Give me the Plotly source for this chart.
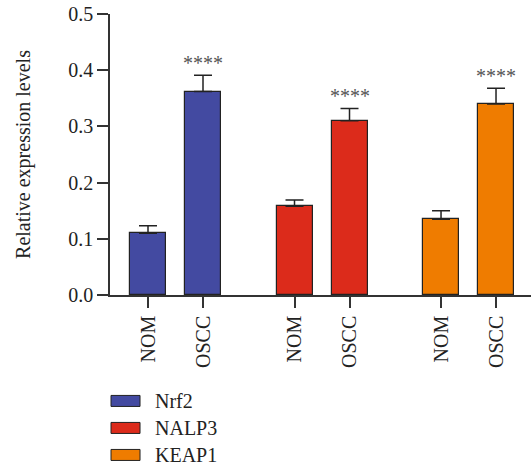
import plotly.graph_objects as go

genes = ["Nrf2", "NALP3", "KEAP1"]
groups = ["NOM", "OSCC"]
colors = ["#434aa1", "#dc2b1b", "#ef7c00"]
means = {
    "Nrf2": [0.110, 0.362],
    "NALP3": [0.158, 0.310],
    "KEAP1": [0.135, 0.340],
}
errors = {
    "Nrf2": [0.013, 0.029],
    "NALP3": [0.011, 0.022],
    "KEAP1": [0.015, 0.028],
}
signif = {
    "Nrf2": ["", "****"],
    "NALP3": ["", "****"],
    "KEAP1": ["", "****"],
}
y_ticks = [0.0, 0.1, 0.2, 0.3, 0.4, 0.5]

FONT = "'Liberation Serif', 'DejaVu Serif', serif"
group_step = 2.664

fig = go.Figure()
tickvals, ticktext = [], []
for gi, g in enumerate(genes):
    xs = [gi * group_step + i for i in range(len(groups))]
    tickvals += xs
    ticktext += groups
    fig.add_trace(go.Bar(
        x=xs, y=means[g], name=g, width=0.655,
        marker=dict(color=colors[gi], line=dict(color="#222222", width=1.2)),
        error_y=dict(type="data", array=errors[g], arrayminus=[0] * len(xs),
                     symmetric=False, color="#222222", thickness=1.5, width=9),
        showlegend=False, hoverinfo="skip",
    ))
    for x, m, e, s in zip(xs, means[g], errors[g], signif[g]):
        if s:
            fig.add_annotation(x=x, y=m + e, text=s, showarrow=False,
                               yanchor="bottom", yshift=-1,
                               font=dict(family=FONT, size=20, color="#555555"))

# custom legend
for gi, g in enumerate(genes):
    y0 = -0.377 - gi * 0.0961
    fig.add_shape(type="rect", xref="paper", yref="paper",
                  x0=0.0024, x1=0.0713, y0=y0 - 0.0196, y1=y0 + 0.0196,
                  fillcolor=colors[gi], line=dict(color="#222222", width=1))
    fig.add_annotation(xref="paper", yref="paper", x=0.105, y=y0, text=g,
                       showarrow=False, xanchor="left", yanchor="middle",
                       borderpad=0,
                       font=dict(family=FONT, size=20, color="#222222"))

fig.update_layout(
    width=531, height=468,
    margin=dict(l=110, r=0, t=14, b=173),
    plot_bgcolor="white", paper_bgcolor="white",
    bargap=0,
    font=dict(family=FONT, size=20, color="#222222"),
    xaxis=dict(range=[-0.691, 6.964], tickvals=tickvals, ticktext=ticktext,
               tickangle=-90, ticks="outside", ticklen=11, tickwidth=1.5,
               tickcolor="#333333", showline=True, linecolor="#333333",
               linewidth=1.5, showgrid=False, zeroline=False, automargin=False,
               tickfont=dict(family=FONT, size=20)),
    yaxis=dict(range=[0, 0.5], tickvals=y_ticks, tickformat=".1f",
               ticks="outside", ticklen=11, tickwidth=1.5, tickcolor="#333333",
               showline=True, linecolor="#333333", linewidth=1.5,
               showgrid=False, zeroline=False, automargin=False,
               tickfont=dict(family=FONT, size=20),
               title=dict(text="Relative expression levels",
                          font=dict(family=FONT, size=20), standoff=32)),
)

fig.write_html("out.html", config={"displayModeBar": False},
               post_script="document.body.style.margin='0';"
                           "document.body.style.overflow='hidden';")
